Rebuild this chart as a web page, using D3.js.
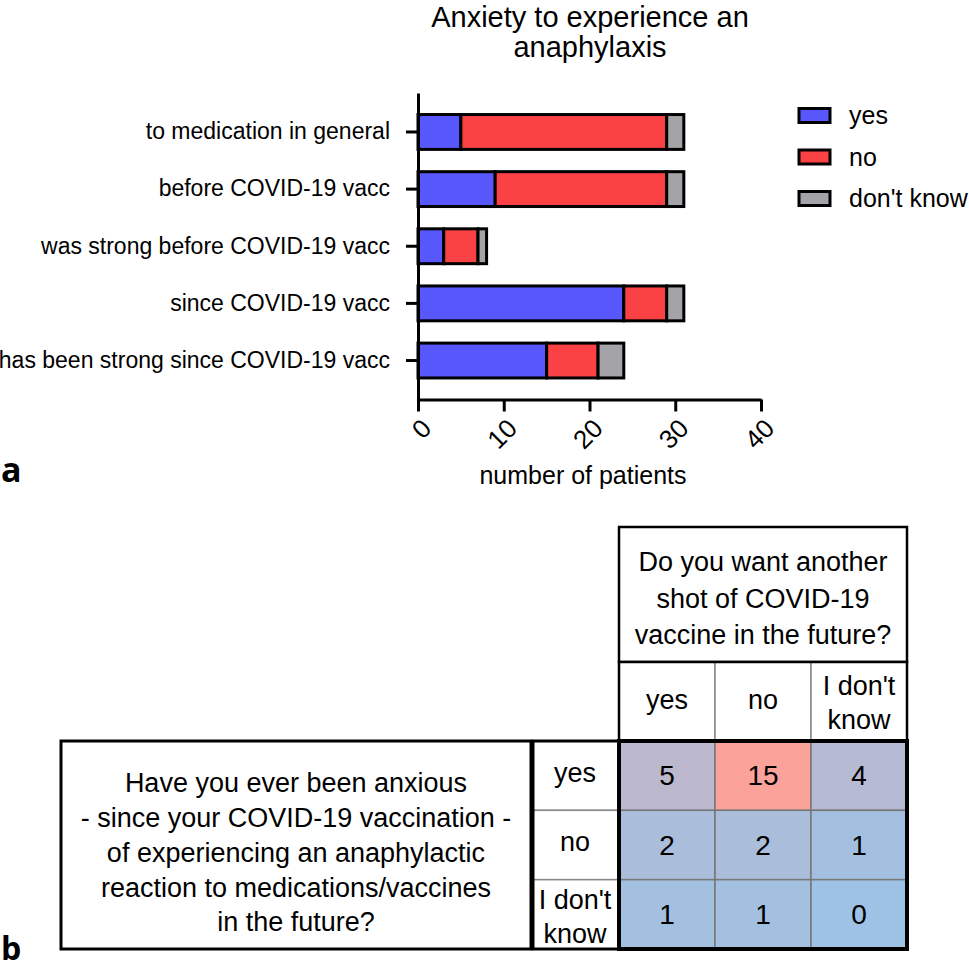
<!DOCTYPE html>
<html>
<head>
<meta charset="utf-8">
<script src="https://cdn.jsdelivr.net/npm/d3@7"></script>
<style>
  body { margin: 0; background: #fff; }
  svg { display: block; font-family: "Liberation Sans", Arial, Helvetica, sans-serif; }
</style>
</head>
<body>
<div id="chart"></div>
<script>
// panel a data
var categories = [
  "to medication in general",
  "before COVID-19 vacc",
  "was strong before COVID-19 vacc",
  "since COVID-19 vacc",
  "has been strong since COVID-19 vacc"
];
var yesVals = [5, 9, 3, 24, 15];
var noVals = [24, 20, 4, 5, 6];
var dkVals = [2, 2, 1, 2, 3];
var seriesKeys = ["yes", "no", "dk"];
var seriesNames = ["yes", "no", "don't know"];
var seriesColors = ["#5757fb", "#fa4143", "#a3a3a8"];
var xTicks = [0, 10, 20, 30, 40];

// panel b data
var colLabels = ["yes", "no", "I don't know"];
var rowLabels = ["yes", "no", "I don't know"];
var counts = [
  [5, 15, 4],
  [2, 2, 1],
  [1, 1, 0]
];
var colQuestion = ["Do you want another", "shot of COVID-19", "vaccine in the future?"];
var rowQuestion = [
  "Have you ever been anxious",
  "- since your COVID-19 vaccination -",
  "of experiencing an anaphylactic",
  "reaction to medications/vaccines",
  "in the future?"
];

var svgWidth = 969, svgHeight = 969;

var svg = d3.select("#chart")
  .append("svg")
  .attr("width", svgWidth)
  .attr("height", svgHeight);

// ---------- panel a: stacked bars ----------
var rows = categories.map(function(c, i) {
  return { cat: c, yes: yesVals[i], no: noVals[i], dk: dkVals[i] };
});

var xScale = d3.scaleLinear()
  .domain([0, 40])
  .range([418, 761]);

var yScale = d3.scaleBand()
  .domain(categories)
  .range([93, 399.5])
  .paddingInner(0.39)
  .paddingOuter(0.377);

var stacked = d3.stack().keys(seriesKeys)(rows);

svg.append("text")
  .attr("x", 590)
  .attr("y", 27)
  .attr("text-anchor", "middle")
  .attr("font-size", 29)
  .selectAll("tspan")
  .data(["Anxiety to experience an", "anaphylaxis"])
  .enter()
  .append("tspan")
  .attr("x", 590)
  .attr("dy", (d, i) => i === 0 ? 0 : 30)
  .text(d => d);

var layers = svg.append("g").selectAll("g")
  .data(stacked)
  .enter()
  .append("g")
  .attr("fill", (d, i) => seriesColors[i]);

layers.selectAll("rect")
  .data(d => d)
  .enter()
  .append("rect")
  .attr("x", d => xScale(d[0]))
  .attr("y", d => yScale(d.data.cat))
  .attr("width", d => xScale(d[1]) - xScale(d[0]))
  .attr("height", yScale.bandwidth())
  .attr("stroke", "#000")
  .attr("stroke-width", 3);

// y axis
var leftAxis = d3.axisLeft(yScale).tickSize(12).tickSizeOuter(0).tickPadding(16);
var yAxisG = svg.append("g")
  .attr("transform", "translate(418,0)")
  .call(leftAxis);
yAxisG.select(".domain").attr("stroke-width", 3);
yAxisG.selectAll(".tick line").attr("stroke-width", 3);
yAxisG.selectAll(".tick text")
  .attr("font-size", 23)
  .attr("font-family", "Liberation Sans, Arial, sans-serif")
  .attr("fill", "#000");

// x axis
var bottomAxis = d3.axisBottom(xScale).tickValues(xTicks).tickSize(12).tickSizeOuter(0);
var xAxisG = svg.append("g")
  .attr("transform", "translate(0,399.5)")
  .call(bottomAxis);
xAxisG.select(".domain").attr("stroke-width", 3);
xAxisG.selectAll(".tick line").attr("stroke-width", 3);
xAxisG.selectAll(".tick text")
  .attr("font-size", 26)
  .attr("font-family", "Liberation Sans, Arial, sans-serif")
  .attr("fill", "#000")
  .attr("x", 0)
  .attr("y", 0)
  .attr("dy", "0.35em")
  .attr("text-anchor", "end")
  .attr("transform", "translate(8,24) rotate(-45)");

svg.append("text")
  .attr("x", 583)
  .attr("y", 484)
  .attr("text-anchor", "middle")
  .attr("font-size", 25)
  .text("number of patients");

// legend
var legend = svg.append("g").selectAll("g")
  .data(seriesNames)
  .enter()
  .append("g")
  .attr("transform", (d, i) => `translate(799, ${115.5 + i * 41.5})`);

legend.append("rect")
  .attr("x", 0)
  .attr("y", -7)
  .attr("width", 31)
  .attr("height", 14)
  .attr("fill", (d, i) => seriesColors[i])
  .attr("stroke", "#000")
  .attr("stroke-width", 3);

legend.append("text")
  .attr("x", 50)
  .attr("dy", "0.35em")
  .attr("font-size", 25)
  .text(d => d);

// panel labels
svg.append("text")
  .attr("x", 1)
  .attr("y", 482)
  .attr("font-size", 34)
  .attr("font-weight", "bold")
  .attr("font-family", "Open Sans, Liberation Sans, sans-serif")
  .text("a");

svg.append("text")
  .attr("x", 1)
  .attr("y", 960)
  .attr("font-size", 32)
  .attr("font-weight", "bold")
  .attr("font-family", "Open Sans, Liberation Sans, sans-serif")
  .text("b");

// ---------- panel b: contingency table ----------
var colScale = d3.scaleBand().domain(colLabels).range([619, 907]);
var rowScale = d3.scaleBand().domain(rowLabels).range([741, 949]);
var colorScale = d3.scaleLinear()
  .domain([0, 15])
  .range(["#9dc2e6", "#fba39b"]);

var table = svg.append("g");
var tFont = 27;

// column question box
table.append("rect")
  .attr("x", 619).attr("y", 527)
  .attr("width", 288).attr("height", 135)
  .attr("fill", "#fff").attr("stroke", "#000").attr("stroke-width", 2.5);

table.append("g").selectAll("text")
  .data(colQuestion)
  .enter()
  .append("text")
  .attr("x", 763)
  .attr("y", (d, i) => 562 + i * 36.5)
  .attr("dy", "0.35em")
  .attr("text-anchor", "middle")
  .attr("font-size", tFont)
  .text(d => d);

// column header cells
var colHead = table.append("g").selectAll("g")
  .data(colLabels)
  .enter()
  .append("g");

colHead.append("rect")
  .attr("x", d => colScale(d))
  .attr("y", 662)
  .attr("width", colScale.bandwidth())
  .attr("height", 79)
  .attr("fill", "#fff")
  .attr("stroke", "#888")
  .attr("stroke-width", 1.5);

colHead.each(function(d) {
  var parts = d === "I don't know" ? ["I don't", "know"] : [d];
  d3.select(this).selectAll("text")
    .data(parts)
    .enter()
    .append("text")
    .attr("x", colScale(d) + colScale.bandwidth() / 2)
    .attr("y", (p, i) => parts.length === 1 ? 700 : 686 + i * 34)
    .attr("dy", "0.35em")
    .attr("text-anchor", "middle")
    .attr("font-size", tFont)
    .text(p => p);
});

table.append("rect")
  .attr("x", 619).attr("y", 662)
  .attr("width", 288).attr("height", 79)
  .attr("fill", "none").attr("stroke", "#000").attr("stroke-width", 2.5);

// row question box
table.append("rect")
  .attr("x", 61).attr("y", 741)
  .attr("width", 470).attr("height", 208)
  .attr("fill", "#fff").attr("stroke", "#000").attr("stroke-width", 3);

table.append("g").selectAll("text")
  .data(rowQuestion)
  .enter()
  .append("text")
  .attr("x", 296)
  .attr("y", (d, i) => 783 + i * 34.7)
  .attr("dy", "0.35em")
  .attr("text-anchor", "middle")
  .attr("font-size", tFont)
  .text(d => d);

// row header cells
var rowHead = table.append("g").selectAll("g")
  .data(rowLabels)
  .enter()
  .append("g");

rowHead.append("rect")
  .attr("x", 533)
  .attr("y", d => rowScale(d))
  .attr("width", 86)
  .attr("height", rowScale.bandwidth())
  .attr("fill", "#fff")
  .attr("stroke", "#888")
  .attr("stroke-width", 1.5);

rowHead.each(function(d) {
  var parts = d === "I don't know" ? ["I don't", "know"] : [d];
  var cy = rowScale(d) + rowScale.bandwidth() / 2;
  d3.select(this).selectAll("text")
    .data(parts)
    .enter()
    .append("text")
    .attr("x", 575)
    .attr("y", (p, i) => parts.length === 1 ? cy - 3 : cy - 15 + i * 34)
    .attr("dy", "0.35em")
    .attr("text-anchor", "middle")
    .attr("font-size", tFont)
    .text(p => p);
});

table.append("rect")
  .attr("x", 533).attr("y", 741)
  .attr("width", 86).attr("height", 208)
  .attr("fill", "none").attr("stroke", "#000").attr("stroke-width", 3);

// data cells
var cells = [];
counts.forEach(function(r, i) {
  r.forEach(function(v, j) {
    cells.push({ row: rowLabels[i], col: colLabels[j], value: v });
  });
});

var cellG = table.append("g").selectAll("g")
  .data(cells)
  .enter()
  .append("g");

cellG.append("rect")
  .attr("x", d => colScale(d.col))
  .attr("y", d => rowScale(d.row))
  .attr("width", colScale.bandwidth())
  .attr("height", rowScale.bandwidth())
  .attr("fill", d => colorScale(d.value))
  .attr("stroke", "#777")
  .attr("stroke-width", 1.5);

cellG.append("text")
  .attr("x", d => colScale(d.col) + colScale.bandwidth() / 2)
  .attr("y", d => rowScale(d.row) + rowScale.bandwidth() / 2)
  .attr("dy", "0.35em")
  .attr("text-anchor", "middle")
  .attr("font-size", 28)
  .text(d => d.value);

table.append("rect")
  .attr("x", 619).attr("y", 741)
  .attr("width", 288).attr("height", 208)
  .attr("fill", "none").attr("stroke", "#000").attr("stroke-width", 4);
</script>
</body>
</html>
